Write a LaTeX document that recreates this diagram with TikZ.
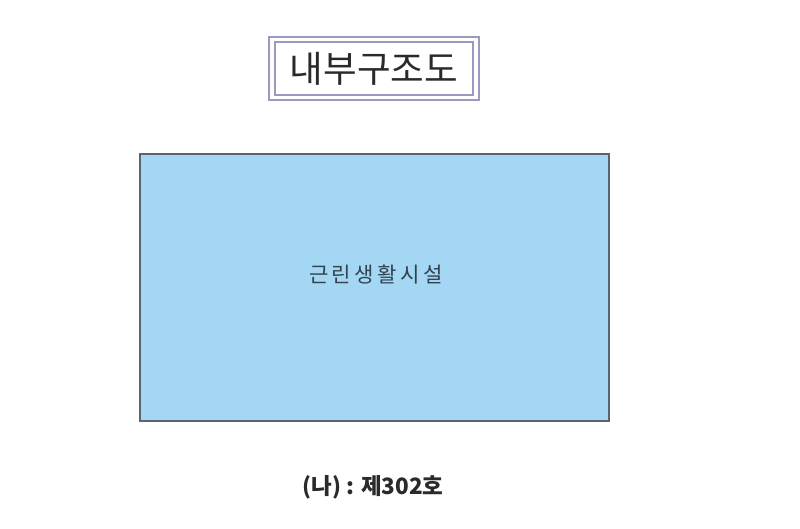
\documentclass[tikz,border=0pt]{standalone}
\usepackage{fontspec}
\setmainfont{Noto Sans CJK KR}
\definecolor{frameline}{HTML}{9A9AC0}
\definecolor{roomfill}{HTML}{A3D7F3}
\definecolor{roomline}{HTML}{5A6470}
\definecolor{labeltext}{HTML}{34414F}
\definecolor{titletext}{HTML}{2A2A2A}

\begin{document}
\begin{tikzpicture}[x=0.025cm,y=-0.025cm,%
        titlebox/.style={draw=frameline, line width=1.4pt, fill=white},%
        room/.style={draw=roomline, line width=1pt, fill=roomfill}]
\useasboundingbox (0,0) rectangle (800,528);
\fill[white] (0,0) rectangle (800,528);
% title frame
\draw[titlebox] (269,37) rectangle (479,100);
\draw[frameline, line width=1pt] (275,42) rectangle (473,95);
\node[text=titletext] (title) at (374,69) {\fontsize{26}{30}\selectfont 내부구조도};
% room
\draw[room] (140,154) rectangle (609,421);
\node[text=labeltext] (use) at (376,275) {\fontsize{15}{18}\selectfont 근\,린\,생\,활\,시\,설};
% caption
\node[text=titletext] (unit) at (373,487) {\fontsize{16}{18}\selectfont\bfseries (나) : 제302호};
\end{tikzpicture}
\end{document}
